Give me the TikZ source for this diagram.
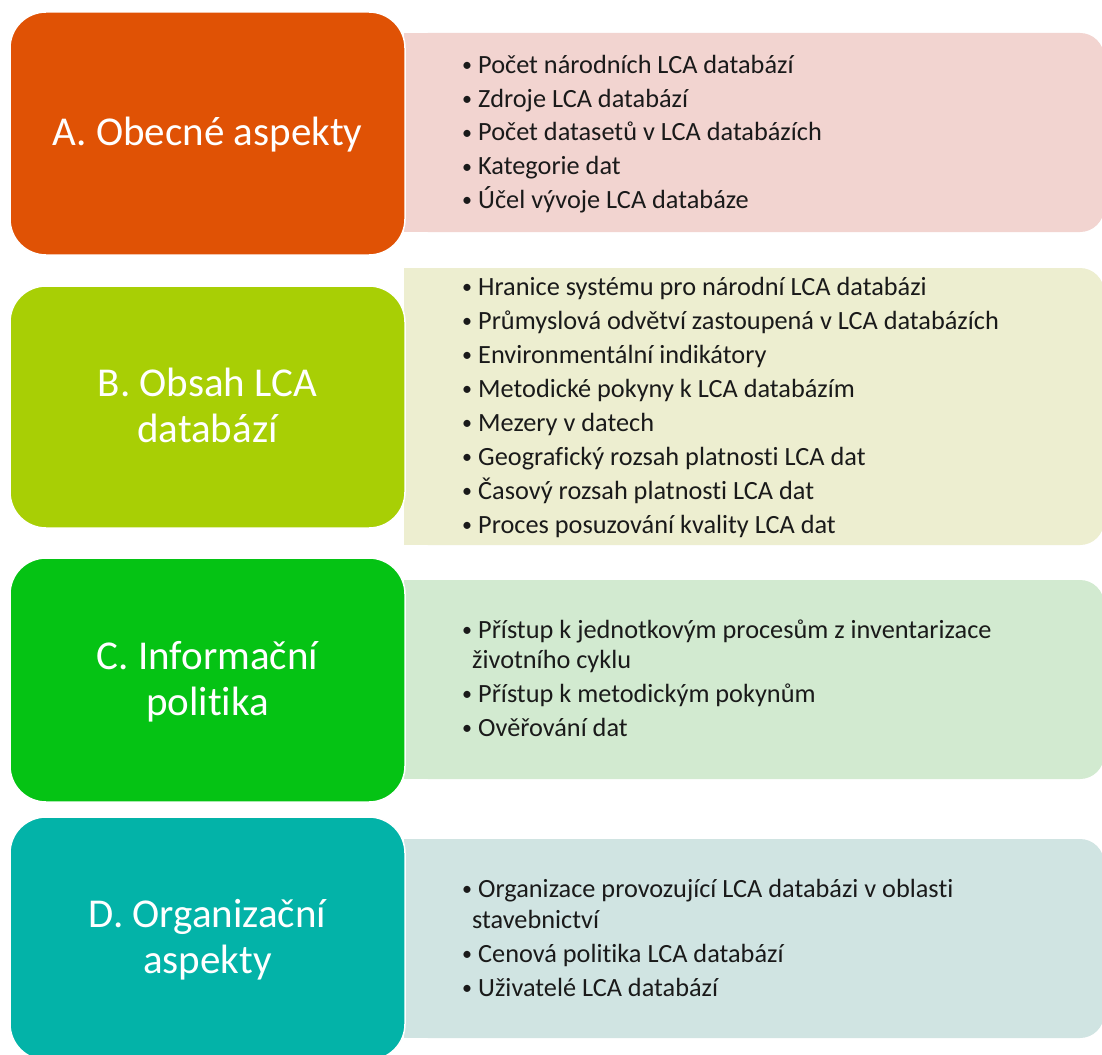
\documentclass[tikz,border=0pt]{standalone}
\usepackage{fontspec}
\setmainfont{Carlito}[Ligatures=NoCommon]

\definecolor{headA}{HTML}{E05205}
\definecolor{headB}{HTML}{A8CF05}
\definecolor{headC}{HTML}{05C314}
\definecolor{headD}{HTML}{03B3A8}
\definecolor{panelA}{HTML}{F2D4D0}
\definecolor{panelB}{HTML}{EDEED0}
\definecolor{panelC}{HTML}{D2EAD0}
\definecolor{panelD}{HTML}{D0E4E2}
\definecolor{ink}{HTML}{1A1A1A}

% small bullet mark followed by the gap before the text
\newcommand\dotmark{\makebox[16pt][l]{\raisebox{1.5pt}{\fontsize{20}{20}\selectfont\textbullet}}}
% one bulleted line of a detail panel
\newcommand\bulletline[4]{\node[itemtext] (#1) at (#2,#3) {\dotmark#4};}
% continuation line of a wrapped bullet
\newcommand\wrapline[4]{\node[itemtext] (#1) at (#2,#3) {#4};}

\begin{document}
\begin{tikzpicture}[x=1pt,y=-1pt,
  head/.style={draw=white, line width=1.5pt, rounded corners=36pt,
    minimum width=395pt, inner sep=0pt, outer sep=0pt},
  panel/.style={rounded corners=24pt, minimum width=700pt,
    inner sep=0pt, outer sep=0pt},
  headtext/.style={anchor=base, text=white, inner sep=0pt,
    font=\fontsize{41}{46}\selectfont},
  itemtext/.style={anchor=base west, text=ink, inner sep=0pt,
    font=\fontsize{26.3}{30}\selectfont},
]
\useasboundingbox (0,0) rectangle (1102,1054);
\fill[white] (0,0) rectangle (1102,1054);

% ---- detail panels (square on the left, rounded on the right) ----
\node[panel, fill=panelA, minimum height=199pt] (pa) at (754,132.5) {};
\fill[panelA] (pa.north west) rectangle ([xshift=40pt]pa.south west);
\node[panel, fill=panelB, minimum height=277pt] (pb) at (754,406.5) {};
\fill[panelB] (pb.north west) rectangle ([xshift=40pt]pb.south west);
\node[panel, fill=panelC, minimum height=199pt] (pc) at (754,679.5) {};
\fill[panelC] (pc.north west) rectangle ([xshift=40pt]pc.south west);
\node[panel, fill=panelD, minimum height=199pt] (pd) at (754,938.5) {};
\fill[panelD] (pd.north west) rectangle ([xshift=40pt]pd.south west);

% ---- category boxes ----
\node[head, fill=headA, minimum height=243pt] (ha) at (207.5,133.5) {};
\node[head, fill=headB, minimum height=242pt] (hb) at (207.5,407) {};
\node[head, fill=headC, minimum height=244pt] (hc) at (207.5,680) {};
\node[head, fill=headD, minimum height=243pt] (hd) at (207.5,938.5) {};

\node[headtext] (ta)  at (207.5,145)   {A. Obecné aspekty};
\node[headtext] (tb1) at (207.5,396)   {B. Obsah LCA};
\node[headtext] (tb2) at (207.5,442)   {databází};
\node[headtext] (tc1) at (207.5,669)   {C. Informační};
\node[headtext] (tc2) at (207.5,715)   {politika};
\node[headtext] (td1) at (207.5,927.5) {D. Organizační};
\node[headtext] (td2) at (207.5,973.5) {aspekty};

% ---- A items ----
\bulletline{a1}{462}{73.5}{Počet národních LCA databází}
\bulletline{a2}{462}{107.2}{Zdroje LCA databází}
\bulletline{a3}{462}{140.9}{Počet datasetů v LCA databázích}
\bulletline{a4}{462}{174.6}{Kategorie dat}
\bulletline{a5}{462}{208.3}{Účel vývoje LCA databáze}

% ---- B items ----
\bulletline{b1}{462}{295}{Hranice systému pro národní LCA databázi}
\bulletline{b2}{462}{329}{Průmyslová odvětví zastoupená v LCA databázích}
\bulletline{b3}{462}{363}{Environmentální indikátory}
\bulletline{b4}{462}{397}{Metodické pokyny k LCA databázím}
\bulletline{b5}{462}{431}{Mezery v datech}
\bulletline{b6}{462}{465}{Geografický rozsah platnosti LCA dat}
\bulletline{b7}{462}{499}{Časový rozsah platnosti LCA dat}
\bulletline{b8}{462}{533}{Proces posuzování kvality LCA dat}

% ---- C items ----
\bulletline{c1}{462}{638}{Přístup k jednotkovým procesům z inventarizace}
\wrapline{c1w}{472}{668}{životního cyklu}
\bulletline{c2}{462}{702}{Přístup k metodickým pokynům}
\bulletline{c3}{462}{736}{Ověřování dat}

% ---- D items ----
\bulletline{d1}{462}{897}{Organizace provozující LCA databázi v oblasti}
\wrapline{d1w}{472}{928}{stavebnictví}
\bulletline{d2}{462}{962}{Cenová politika LCA databází}
\bulletline{d3}{462}{996}{Uživatelé LCA databází}
\end{tikzpicture}
\end{document}
